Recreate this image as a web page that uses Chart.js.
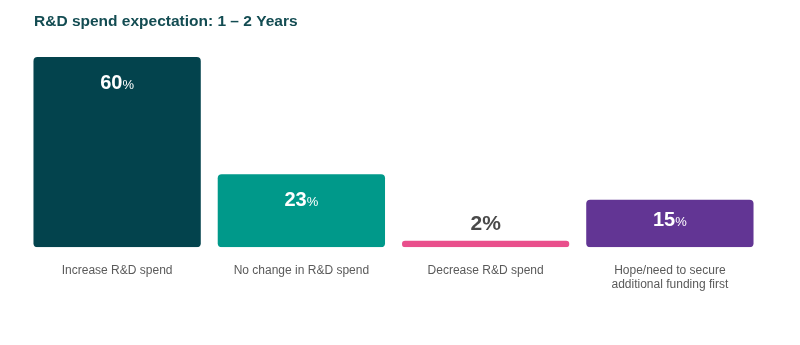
<!DOCTYPE html>
<html>
<head>
<meta charset="utf-8">
<script src="https://cdn.jsdelivr.net/npm/chart.js@4.4.1/dist/chart.umd.min.js"></script>
<style>
  html, body { margin: 0; padding: 0; background: #ffffff; }
  #wrap { width: 800px; height: 345px; position: relative; }
</style>
</head>
<body>
<div id="wrap"><canvas id="c" width="800" height="345"></canvas></div>
<script>
// R&D spend expectation over the next 1–2 years (share of respondents, %)
const categories = [
  ["Increase R&D spend"],
  ["No change in R&D spend"],
  ["Decrease R&D spend"],
  ["Hope/need to secure", "additional funding first"]
];
const shares = [60, 23, 2, 15];
const barColors = ["#03434d", "#00998a", "#e94f8c", "#623594"];
const titleText = "R&D spend expectation: 1 \u2013 2 Years";

const FONT = "'Liberation Sans', Arial, Helvetica, sans-serif";

// Title and value labels drawn on top of the bars
const labelPlugin = {
  id: "valueLabels",
  afterDatasetsDraw(chart) {
    const ctx = chart.ctx;
    ctx.save();
    ctx.fillStyle = "#134c52";
    ctx.font = "bold 15.5px " + FONT;
    ctx.textAlign = "left";
    ctx.textBaseline = "alphabetic";
    ctx.fillText(titleText, 34, 26);

    const meta = chart.getDatasetMeta(0);
    meta.data.forEach((bar, i) => {
      const v = shares[i];
      const num = String(v);
      const props = bar.getProps(["x", "y", "base"], true);
      const h = props.base - props.y;
      if (h > 30) {
        ctx.fillStyle = "#ffffff";
        ctx.font = "bold 20px " + FONT;
        const wNum = ctx.measureText(num).width;
        ctx.font = "13px " + FONT;
        const wPct = ctx.measureText("%").width;
        const x0 = props.x - (wNum + wPct) / 2;
        const yb = props.y + Math.min(32, h * 0.56);
        ctx.textAlign = "left";
        ctx.font = "bold 20px " + FONT;
        ctx.fillText(num, x0, yb);
        ctx.font = "13px " + FONT;
        ctx.fillText("%", x0 + wNum, yb);
      } else {
        ctx.fillStyle = "#4a4a4a";
        ctx.font = "bold 21px " + FONT;
        ctx.textAlign = "center";
        ctx.fillText(num + "%", props.x, props.y - 11);
      }
    });
    ctx.restore();
  }
};

new Chart(document.getElementById("c"), {
  type: "bar",
  data: {
    labels: categories,
    datasets: [{
      data: shares,
      backgroundColor: barColors,
      borderRadius: 4,
      borderSkipped: false,
      categoryPercentage: 1.0,
      barPercentage: 0.908
    }]
  },
  options: {
    responsive: false,
    animation: false,
    devicePixelRatio: 1,
    layout: { padding: { top: 57, left: 25, right: 38, bottom: 37 } },
    plugins: {
      legend: { display: false },
      tooltip: { enabled: false },
      title: { display: false }
    },
    scales: {
      x: {
        grid: { display: false, drawTicks: false },
        border: { display: false },
        ticks: {
          color: "#5a5a5a",
          font: { family: FONT, size: 12 },
          padding: 16,
          maxRotation: 0,
          autoSkip: false
        }
      },
      y: {
        display: false,
        min: 0,
        max: 60
      }
    }
  },
  plugins: [labelPlugin]
});
</script>
</body>
</html>
